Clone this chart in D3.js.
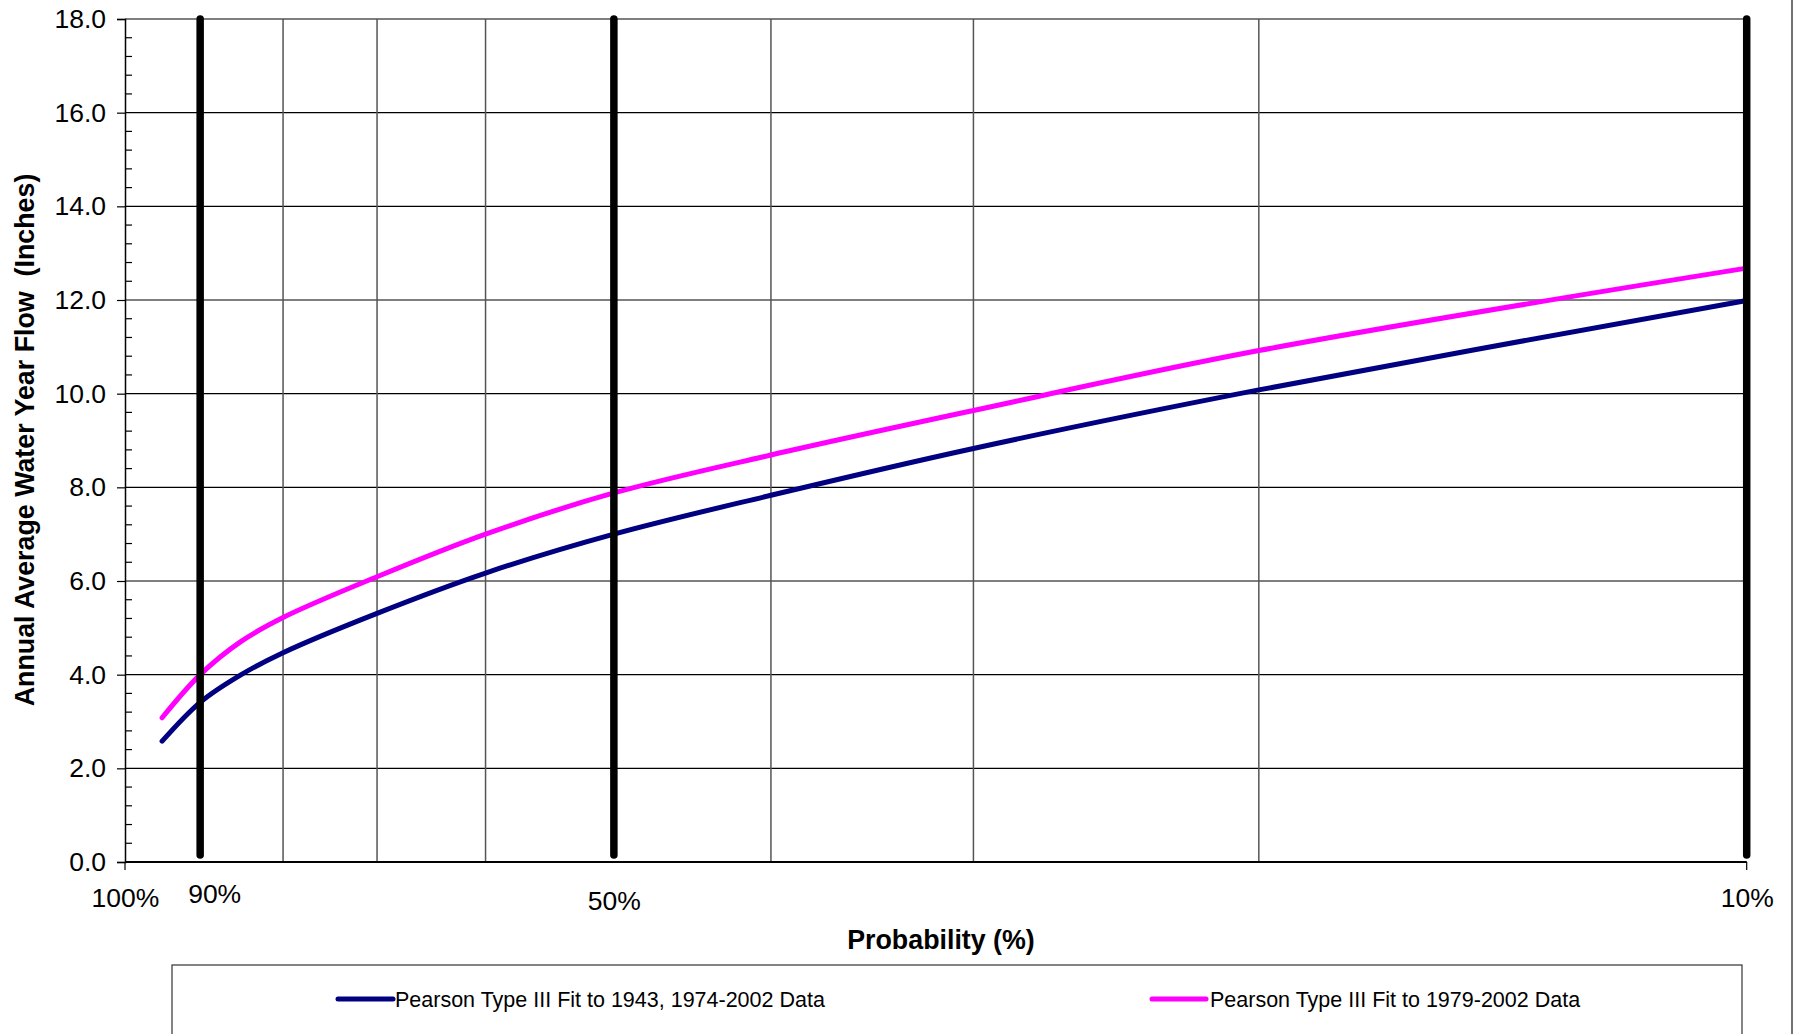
<!DOCTYPE html>
<html>
<head>
<meta charset="utf-8">
<script src="https://cdn.jsdelivr.net/npm/d3@7"></script>
<style>
  html, body { margin: 0; padding: 0; background: #fff; }
  svg { display: block; font-family: "Liberation Sans", Arial, sans-serif; }
</style>
</head>
<body>
<svg id="chart" width="1797" height="1034"></svg>
<script>
// ---------------- data ----------------
const probabilities = [0.95, 0.90, 0.85, 0.80, 0.70, 0.60, 0.50, 0.40, 0.30, 0.20, 0.10];
const fit1943 = [2.58, 3.41, 3.99, 4.47, 5.31, 6.17, 7.00, 7.83, 8.83, 10.08, 11.99];
const fit1979 = [3.08, 4.00, 4.70, 5.22, 6.09, 7.00, 7.88, 8.69, 9.64, 10.92, 12.68];
const seriesNames = ["Pearson Type III Fit to 1943, 1974-2002 Data", "Pearson Type III Fit to 1979-2002 Data"];
const seriesColors = ["#000080", "#FF00FF"];
const gridProbs = [0.8, 0.7, 0.6, 0.4, 0.3, 0.2];
const markerProbs = [0.9, 0.5, 0.1];
const markerRange = [0.15, 18];
const xTickProbs = [1, 0.9, 0.5, 0.1];
const yTicks = [0, 2, 4, 6, 8, 10, 12, 14, 16, 18];
const yDomain = [0, 18];
const yMinorStep = 0.4;

// ---------------- layout ----------------
const svg = d3.select("#chart");
const L = 125, R = 1746.7, T = 19, B = 862;
const x = d3.scaleLog().domain([1, 0.1]).range([126, R]);
const y = d3.scaleLinear().domain(yDomain).range([B, T]);

// horizontal gridlines
svg.append("g").selectAll("line").data(yTicks).join("line")
  .attr("x1", L).attr("x2", R)
  .attr("y1", d => y(d)).attr("y2", d => y(d))
  .attr("stroke", "#000").attr("stroke-width", 1.2);

// vertical gridlines
svg.append("g").selectAll("line").data(gridProbs).join("line")
  .attr("x1", d => x(d)).attr("x2", d => x(d))
  .attr("y1", T).attr("y2", B)
  .attr("stroke", "#555").attr("stroke-width", 1.5);

// y axis
const yAxis = d3.axisLeft(y).tickValues(yTicks).tickFormat(d3.format(".1f"))
  .tickSize(8).tickPadding(11);
const gy = svg.append("g").attr("transform", `translate(${L},0)`).call(yAxis);
gy.select(".domain").attr("stroke", "#000").attr("stroke-width", 1.5);
gy.selectAll(".tick line").attr("stroke", "#000").attr("stroke-width", 1.2);
gy.selectAll(".tick text").attr("font-size", 26.5).attr("fill", "#000")
  .attr("font-family", "'Liberation Sans', Arial, sans-serif");

// minor ticks (inside)
const minor = d3.range(yDomain[0], yDomain[1] + 1e-6, yMinorStep)
  .filter(v => Math.abs(v / 2 - Math.round(v / 2)) > 1e-6);
svg.append("g").selectAll("line").data(minor).join("line")
  .attr("x1", L).attr("x2", L + 7)
  .attr("y1", d => y(d)).attr("y2", d => y(d))
  .attr("stroke", "#000").attr("stroke-width", 1.2);

// x axis line
svg.append("line").attr("x1", L).attr("x2", R).attr("y1", B).attr("y2", B)
  .attr("stroke", "#000").attr("stroke-width", 2.2);
// x axis tick marks at ends
svg.append("g").selectAll("line").data([1, 0.1]).join("line")
  .attr("x1", d => d === 1 ? L : x(d)).attr("x2", d => d === 1 ? L : x(d))
  .attr("y1", B).attr("y2", B + 8)
  .attr("stroke", "#000").attr("stroke-width", 1.2);

// x axis labels
const xAxis = d3.axisBottom(x).tickValues(xTickProbs).tickFormat(d3.format(".0%"))
  .tickSize(0).tickPadding(32);
const gx = svg.append("g").attr("transform", `translate(0,${B})`).call(xAxis);
gx.select(".domain").remove();
gx.selectAll(".tick text").attr("font-size", 26.5).attr("fill", "#000")
  .attr("font-family", "'Liberation Sans', Arial, sans-serif")
  .attr("dx", d => d === 1 ? -1 : (d === 0.9 ? 14 : 0))
  .attr("dy", d => d === 0.9 ? "0.35em" : (d === 0.5 ? "0.6em" : "0.5em"));

// curves
const line = d3.line().x(d => x(d[0])).y(d => y(d[1])).curve(d3.curveCatmullRom.alpha(0.5));
[fit1943, fit1979].forEach((vals, i) => {
  svg.append("path")
    .datum(probabilities.map((p, j) => [p, vals[j]]))
    .attr("d", line)
    .attr("fill", "none")
    .attr("stroke", seriesColors[i])
    .attr("stroke-width", 5)
    .attr("stroke-linecap", "round")
    .attr("stroke-linejoin", "round");
});

// thick marker lines at 90%, 50%, 10%
svg.append("g").selectAll("line").data(markerProbs).join("line")
  .attr("x1", d => x(d)).attr("x2", d => x(d))
  .attr("y1", y(markerRange[1])).attr("y2", y(markerRange[0]))
  .attr("stroke", "#000").attr("stroke-width", 7.5)
  .attr("stroke-linecap", "round");

// axis titles
svg.append("text")
  .attr("x", 941).attr("y", 940)
  .attr("text-anchor", "middle").attr("dominant-baseline", "central")
  .attr("font-size", 26.8).attr("font-weight", "bold")
  .text("Probability (%)");

svg.append("text")
  .attr("transform", "translate(25,440) rotate(-90)")
  .attr("text-anchor", "middle").attr("dominant-baseline", "central")
  .attr("font-size", 26.8).attr("font-weight", "bold")
  .style("white-space", "pre")
  .text("Annual Average Water Year Flow  (Inches)");

// legend
svg.append("rect")
  .attr("x", 172).attr("y", 965).attr("width", 1570).attr("height", 120)
  .attr("fill", "none").attr("stroke", "#333").attr("stroke-width", 1.2);

const legendItems = [
  { lx1: 338, lx2: 393, tx: 395 },
  { lx1: 1152, lx2: 1206, tx: 1210 }
];
legendItems.forEach((it, i) => {
  svg.append("line")
    .attr("x1", it.lx1).attr("x2", it.lx2).attr("y1", 999).attr("y2", 999)
    .attr("stroke", seriesColors[i]).attr("stroke-width", 5).attr("stroke-linecap", "round");
  svg.append("text")
    .attr("x", it.tx).attr("y", 999.5)
    .attr("dominant-baseline", "central")
    .attr("font-size", 21.5)
    .text(seriesNames[i]);
});

// outer chart border (right edge)
svg.append("line").attr("x1", 1792).attr("x2", 1792).attr("y1", 0).attr("y2", 1034)
  .attr("stroke", "#444").attr("stroke-width", 1.5);
</script>
</body>
</html>
